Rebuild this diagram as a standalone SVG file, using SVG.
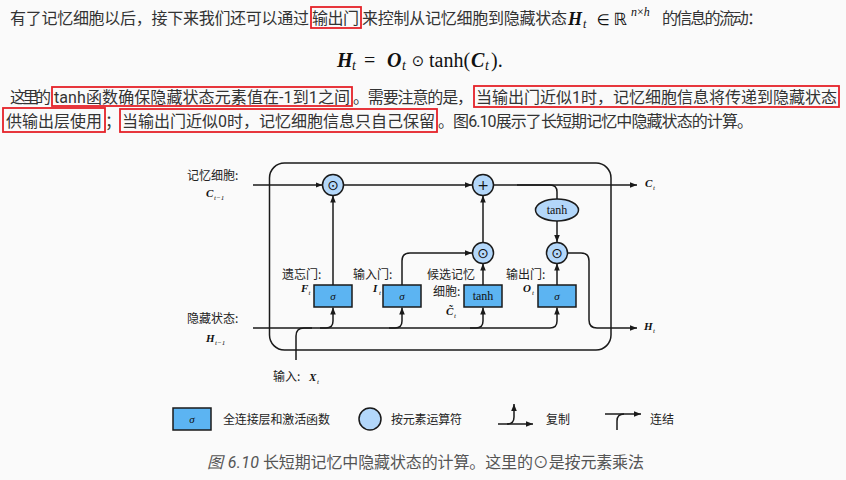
<svg xmlns="http://www.w3.org/2000/svg" width="846" height="480" viewBox="0 0 846 480">
<defs>
<style>
.body{font-family:Roboto,'Noto Sans CJK SC',sans-serif;font-size:16px;fill:#333}
.lbl{font-family:'Noto Sans CJK SC',sans-serif;font-size:12px;fill:#222}
.mb{font-family:'Liberation Serif','DejaVu Serif',serif;font-weight:bold;font-style:italic;fill:#111}
.mi{font-family:'Liberation Serif','DejaVu Serif',serif;font-style:italic;fill:#111}
.mr{font-family:'Liberation Serif','DejaVu Serif',serif;fill:#111}
.hl{fill:none;stroke:#e52228;stroke-width:1.8}
.ln{fill:none;stroke:#1a1a1a;stroke-width:1.5}
.arr{marker-end:url(#ah)}
.box{fill:#5cb4f2;stroke:#1a1a1a;stroke-width:1.5}
.op{fill:#b3d7fa;stroke:#1a1a1a;stroke-width:1.5}
.sym{font-family:'DejaVu Sans',sans-serif;fill:#111;text-anchor:middle}
.cap{font-family:Roboto,'Noto Sans CJK SC',sans-serif;font-size:16px;fill:#555}
</style>
<marker id="ah" viewBox="0 0 10 10" refX="10" refY="5" markerWidth="7" markerHeight="7" markerUnits="userSpaceOnUse" orient="auto">
<path d="M0,1 L10,5 L0,9 z" fill="#1a1a1a"/>
</marker>
</defs>
<rect x="0" y="0" width="846" height="480" fill="#fafafa"/>

<g id="paragraph">
<text class="body" x="10" y="24" textLength="299">有了记忆细胞以后，接下来我们还可以通过</text>
<rect class="hl" x="311" y="7" width="50" height="21"/>
<text class="body" x="312" y="24" textLength="47">输出门</text>
<text class="body" x="362" y="24" textLength="205">来控制从记忆细胞到隐藏状态</text>
<text class="mb" x="568" y="25" font-size="18">H</text>
<text class="mi" x="583" y="28" font-size="12">t</text>
<text class="sym" x="603" y="25" font-size="15">∈</text>
<text class="sym" x="620" y="25" font-size="17">ℝ</text>
<text class="mi" x="631" y="16" font-size="12">n<tspan class="mr" font-style="normal">×</tspan>h</text>
<text class="body" x="662" y="24" textLength="101">的信息的流动：</text>

<text class="mb" x="337" y="66.5" font-size="20">H</text>
<text class="mi" x="352" y="70" font-size="14">t</text>
<text class="mr" x="364" y="66.5" font-size="20">=</text>
<text class="mb" x="387" y="66.5" font-size="20">O</text>
<text class="mi" x="402" y="70" font-size="14">t</text>
<text class="sym" x="418" y="65.5" font-size="15">⊙</text>
<text class="mr" x="429" y="66.5" font-size="20">tanh(</text>
<text class="mb" x="471" y="66.5" font-size="20">C</text>
<text class="mi" x="485" y="70" font-size="14">t</text>
<text class="mr" x="491" y="66.5" font-size="20">).</text>

<text class="body" x="10" y="103" textLength="41">这里的</text>
<rect class="hl" x="52" y="87" width="300" height="19"/>
<text class="body" x="54" y="103" textLength="296">tanh函数确保隐藏状态元素值在-1到1之间</text>
<text class="body" x="353" y="103" textLength="120">。需要注意的是，</text>
<rect class="hl" x="474" y="86" width="365" height="21"/>
<text class="body" x="476" y="103" textLength="361">当输出门近似1时，记忆细胞信息将传递到隐藏状态</text>

<rect class="hl" x="3" y="108" width="102" height="24"/>
<text class="body" x="6" y="127" textLength="96">供输出层使用</text>
<text class="body" x="105" y="127">；</text>
<rect class="hl" x="120" y="109" width="317" height="23"/>
<text class="body" x="122" y="127" textLength="313">当输出门近似0时，记忆细胞信息只自己保留</text>
<text class="body" x="438" y="127" textLength="315">。图6.10展示了长短期记忆中隐藏状态的计算。</text>
</g>

<g id="frame">
<rect x="269.5" y="163" width="341.5" height="187" rx="15" ry="15" fill="none" stroke="#1a1a1a" stroke-width="1.5"/>
</g>

<g id="connectors">
<path class="ln arr" d="M253 185 H322.5"/>
<path class="ln arr" d="M344 185 H472"/>
<path class="ln arr" d="M493.5 185 H637"/>
<path class="ln" d="M517 185 H550 Q557 185 557 192 V199"/>
<path class="ln arr" d="M557 221 V242"/>
<path class="ln arr" d="M568 253 H581 Q589 253 589 261 V320 Q589 328 597 328 H637"/>
<path class="ln arr" d="M333 285 V195.5"/>
<path class="ln arr" d="M402 285 V261 Q402 253 410 253 H472"/>
<path class="ln arr" d="M483 285 V263.5"/>
<path class="ln arr" d="M483 242 V195.5"/>
<path class="ln arr" d="M557 285 V263.5"/>
<path class="ln arr" d="M253 328 H550 Q557 328 557 321 V307.5"/>
<path class="ln arr" d="M320 328 H326 Q333 328 333 321 V307.5"/>
<path class="ln arr" d="M389 328 H395 Q402 328 402 321 V307.5"/>
<path class="ln arr" d="M470 328 H476 Q483 328 483 321 V307.5"/>
<path class="ln" d="M296 360 V336 Q296 328 304 328 H312"/>
</g>

<g id="mul-forget">
<circle class="op" cx="333" cy="185" r="10.5"/>
<text class="sym" x="333" y="190" font-size="14">⊙</text>
</g>
<g id="add">
<circle class="op" cx="483" cy="185" r="10.5"/>
<text class="sym" x="483" y="190" font-size="14">+</text>
</g>
<g id="mul-input">
<circle class="op" cx="483" cy="253" r="10.5"/>
<text class="sym" x="483" y="258" font-size="14">⊙</text>
</g>
<g id="mul-output">
<circle class="op" cx="557" cy="253" r="10.5"/>
<text class="sym" x="557" y="258" font-size="14">⊙</text>
</g>
<g id="tanh-cell">
<ellipse class="op" cx="557" cy="210" rx="21.5" ry="11"/>
<text class="mr" x="557" y="214" font-size="12" text-anchor="middle">tanh</text>
</g>

<g id="gate-forget">
<rect class="box" x="314" y="285" width="38" height="22"/>
<text class="mi" x="333" y="300" font-size="11" text-anchor="middle">σ</text>
<text class="lbl" x="282" y="279">遗忘门:</text>
<text class="mb" x="301" y="292" font-size="11">F</text>
<text class="mi" x="308.5" y="295" font-size="7">t</text>
</g>
<g id="gate-input">
<rect class="box" x="383" y="285" width="38" height="22"/>
<text class="mi" x="402" y="300" font-size="11" text-anchor="middle">σ</text>
<text class="lbl" x="353" y="279">输入门:</text>
<text class="mb" x="373" y="292" font-size="11">I</text>
<text class="mi" x="379" y="295" font-size="7">t</text>
</g>
<g id="gate-candidate">
<rect class="box" x="464" y="285" width="38" height="22"/>
<text class="mr" x="483" y="300" font-size="12" text-anchor="middle">tanh</text>
<text class="lbl" x="427" y="279">候选记忆</text>
<text class="lbl" x="433" y="296">细胞:</text>
<text class="mb" x="446" y="315" font-size="11">C&#x303;</text>
<text class="mi" x="454" y="318" font-size="7">t</text>
</g>
<g id="gate-output">
<rect class="box" x="538" y="285" width="38" height="22"/>
<text class="mi" x="557" y="300" font-size="11" text-anchor="middle">σ</text>
<text class="lbl" x="506" y="279">输出门:</text>
<text class="mb" x="523" y="292" font-size="11">O</text>
<text class="mi" x="532" y="295" font-size="7">t</text>
</g>

<g id="io-labels">
<text class="lbl" x="187" y="180">记忆细胞:</text>
<text class="mb" x="206" y="197" font-size="11">C</text>
<text class="mi" x="214" y="200" font-size="7">t−1</text>
<text class="lbl" x="187" y="323">隐藏状态:</text>
<text class="mb" x="206" y="342" font-size="11">H</text>
<text class="mi" x="215" y="345" font-size="7">t−1</text>
<text class="lbl" x="273" y="381">输入:</text>
<text class="mb" x="309" y="381" font-size="11">X</text>
<text class="mi" x="317" y="384" font-size="7">t</text>
<text class="mb" x="645" y="187" font-size="11">C</text>
<text class="mi" x="653" y="190" font-size="7">t</text>
<text class="mb" x="644" y="330" font-size="11">H</text>
<text class="mi" x="653" y="333" font-size="7">t</text>
</g>

<g id="legend">
<rect class="box" x="173" y="408" width="38" height="22"/>
<text class="mi" x="192" y="423" font-size="11" text-anchor="middle">σ</text>
<text class="lbl" x="223" y="424" textLength="107">全连接层和激活函数</text>
<circle class="op" cx="370" cy="419" r="11"/>
<text class="lbl" x="391" y="424" textLength="71">按元素运算符</text>
<path class="ln arr" d="M498 424 H533"/>
<path class="ln arr" d="M507 424 Q514 424 514 417 V404"/>
<text class="lbl" x="546" y="424">复制</text>
<path class="ln arr" d="M605 414 H641"/>
<path class="ln" d="M617 430 V421 Q617 414 624 414"/>
<text class="lbl" x="650" y="424">连结</text>
</g>

<g id="caption">
<text class="cap" x="207" y="468" font-style="italic" textLength="52">图 6.10</text>
<text class="cap" x="263" y="468" textLength="381">长短期记忆中隐藏状态的计算。这里的⊙是按元素乘法</text>
</g>
</svg>
